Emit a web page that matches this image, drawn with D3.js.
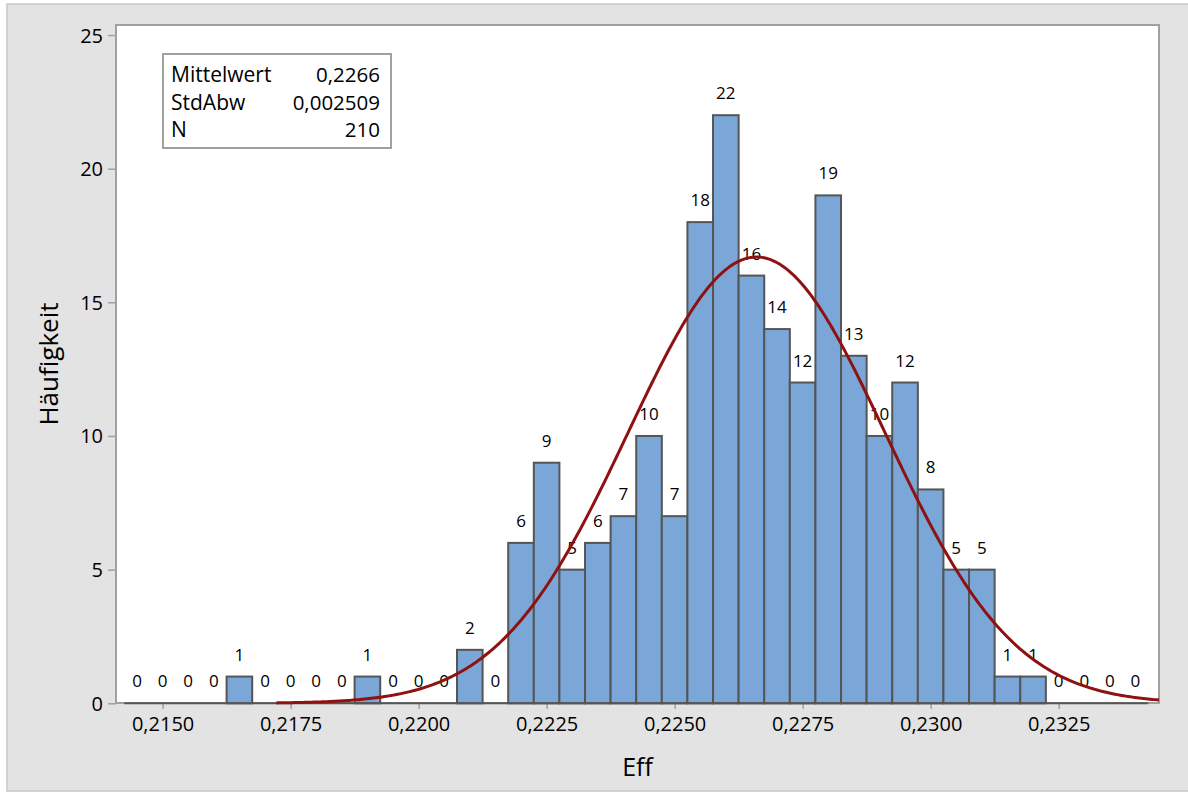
<!DOCTYPE html>
<html>
<head>
<meta charset="utf-8">
<script src="https://cdn.jsdelivr.net/npm/d3@7"></script>
<style>
  body { margin: 0; background: #ffffff; }
  text { font-family: "Open Sans", "Noto Sans", sans-serif; fill: #000; }
</style>
</head>
<body>
<svg id="chart" width="1188" height="795"></svg>
<script>
// Histogram of Eff with fitted normal curve
const binCenters = [
  0.2145, 0.2150, 0.2155, 0.2160, 0.2165, 0.2170, 0.2175, 0.2180, 0.2185, 0.2190,
  0.2195, 0.2200, 0.2205, 0.2210, 0.2215, 0.2220, 0.2225, 0.2230, 0.2235, 0.2240,
  0.2245, 0.2250, 0.2255, 0.2260, 0.2265, 0.2270, 0.2275, 0.2280, 0.2285, 0.2290,
  0.2295, 0.2300, 0.2305, 0.2310, 0.2315, 0.2320, 0.2325, 0.2330, 0.2335, 0.2340
];
const counts = [
  0, 0, 0, 0, 1, 0, 0, 0, 0, 1,
  0, 0, 0, 2, 0, 6, 9, 5, 6, 7,
  10, 7, 18, 22, 16, 14, 12, 19, 13, 10,
  12, 8, 5, 5, 1, 1, 0, 0, 0, 0
];
const binWidth = 0.0005;
const xTicks = [0.2150, 0.2175, 0.2200, 0.2225, 0.2250, 0.2275, 0.2300, 0.2325];
const yTicks = [0, 5, 10, 15, 20, 25];
const statNames = ["Mittelwert", "StdAbw", "N"];
const statValues = ["0,2266", "0,002509", "210"];
const fitMean = 0.2266;
const fitSd = 0.002509;
const fitN = 210;
const xDomain = [0.21409, 0.23446];
const curveStart = 0.21722;

const svg = d3.select("#chart");
const W = 1188, H = 795;
const plot = { left: 116, right: 1159, top: 25, bottom: 703 };

const deLocale = d3.formatLocale({ decimal: ",", thousands: ".", grouping: [3], currency: ["", " €"] });
const fmtX = deLocale.format(".4f");

const x = d3.scaleLinear().domain(xDomain).range([plot.left, plot.right]);
const y = d3.scaleLinear().domain([0, 25]).range([703.3, 35]);

// outer panel
svg.append("rect").attr("x", 7).attr("y", 4).attr("width", W).attr("height", 787)
  .attr("fill", "#e3e3e3").attr("stroke", "#c8c8c8").attr("stroke-width", 1.5);

// plot area
svg.append("rect")
  .attr("x", plot.left).attr("y", plot.top)
  .attr("width", plot.right - plot.left).attr("height", plot.bottom - plot.top)
  .attr("fill", "#ffffff").attr("stroke", "#a0a0a0").attr("stroke-width", 2);

// y axis
const yAxis = d3.axisLeft(y).tickValues(yTicks).tickSize(8).tickPadding(5).tickFormat(d3.format("d"));
const gy = svg.append("g").attr("transform", `translate(${plot.left},0)`).call(yAxis);
gy.select(".domain").remove();
gy.selectAll(".tick line").attr("stroke", "#a0a0a0").attr("stroke-width", 1.5);
gy.selectAll(".tick text").attr("font-size", 20).attr("font-family", null).attr("fill", "#000")
  .attr("dy", "0.35em");

// x axis
const xAxis = d3.axisBottom(x).tickValues(xTicks).tickSize(6).tickPadding(8).tickFormat(fmtX);
const gx = svg.append("g").attr("transform", `translate(0,${plot.bottom})`).call(xAxis);
gx.select(".domain").remove();
gx.selectAll(".tick line").attr("stroke", "#a0a0a0").attr("stroke-width", 1.5);
gx.selectAll(".tick text").attr("font-size", 20).attr("font-family", null).attr("fill", "#000")
  .attr("dy", "0.71em");

// bars
const bars = svg.append("g");
const binData = binCenters.map((c, i) => ({ c, n: counts[i] }));
bars.selectAll("rect").data(binData.filter(d => d.n > 0)).join("rect")
  .attr("x", d => x(d.c - binWidth / 2))
  .attr("y", d => y(d.n))
  .attr("width", d => x(d.c + binWidth / 2) - x(d.c - binWidth / 2))
  .attr("height", d => y(0) - y(d.n))
  .attr("fill", "#7ba7d8")
  .attr("stroke", "#555555")
  .attr("stroke-width", 2);

// baseline across all bins
svg.append("line")
  .attr("x1", x(binCenters[0] - binWidth / 2)).attr("x2", x(binCenters[binCenters.length - 1] + binWidth / 2))
  .attr("y1", y(0)).attr("y2", y(0))
  .attr("stroke", "#555555").attr("stroke-width", 2);

// count labels
svg.append("g").selectAll("text").data(binData).join("text")
  .attr("x", d => x(d.c))
  .attr("y", d => y(d.n) - 16)
  .attr("text-anchor", "middle")
  .attr("font-size", 17)
  .text(d => d.n);

// fitted normal curve
const scale = fitN * binWidth;
const pdf = v => scale / (fitSd * Math.sqrt(2 * Math.PI)) * Math.exp(-0.5 * ((v - fitMean) / fitSd) ** 2);
const curvePts = d3.range(0, 401).map(i => {
  const v = curveStart + (xDomain[1] - curveStart) * i / 400;
  return [v, pdf(v)];
});
svg.append("path")
  .datum(curvePts)
  .attr("d", d3.line().x(d => x(d[0])).y(d => y(d[1])))
  .attr("fill", "none")
  .attr("stroke", "#8e1212")
  .attr("stroke-width", 3);

// stats box
const box = svg.append("g");
box.append("rect").attr("x", 163).attr("y", 54).attr("width", 228).attr("height", 94)
  .attr("fill", "#ffffff").attr("stroke", "#a0a0a0").attr("stroke-width", 2);
statNames.forEach((s, i) => {
  const by = 82 + i * 27.7;
  box.append("text").attr("x", 171).attr("y", by).attr("font-size", 21).text(s);
  box.append("text").attr("x", 380).attr("y", by).attr("font-size", 20.5)
    .attr("text-anchor", "end").text(statValues[i]);
});

// axis titles
svg.append("text")
  .attr("x", (plot.left + plot.right) / 2).attr("y", 776)
  .attr("text-anchor", "middle").attr("font-size", 25).text("Eff");
svg.append("text")
  .attr("transform", `translate(58,${(plot.top + plot.bottom) / 2}) rotate(-90)`)
  .attr("text-anchor", "middle").attr("font-size", 26).text("Häufigkeit");
</script>
</body>
</html>
